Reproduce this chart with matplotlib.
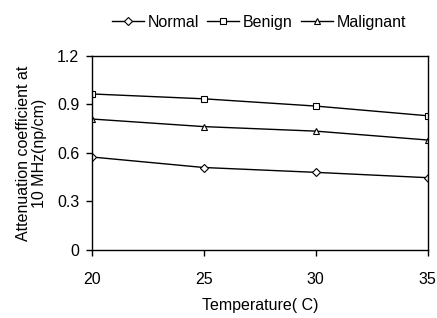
import matplotlib
matplotlib.use("Agg")
import matplotlib.pyplot as plt

plt.rcParams['font.family'] = ['Liberation Sans', 'DejaVu Sans']

temps = [20, 25, 30, 35]
normal = [0.575, 0.51, 0.48, 0.447]
benign = [0.965, 0.935, 0.89, 0.83]
malignant = [0.81, 0.763, 0.735, 0.68]
yticks = [0, 0.3, 0.6, 0.9, 1.2]
ytick_labels = ['0', '0.3', '0.6', '0.9', '1.2']

FS = 11.5
fig = plt.figure(figsize=(4.37, 3.18), dpi=100)
ax = fig.add_axes([0.21, 0.214, 0.769, 0.61])

mk = dict(color='black', linewidth=1, markersize=5, markerfacecolor='white',
          markeredgecolor='black', markeredgewidth=0.8)
ax.plot(temps, normal, marker='D', label='Normal', **{**mk, 'markersize': 4})
ax.plot(temps, benign, marker='s', label='Benign', **mk)
ax.plot(temps, malignant, marker='^', label='Malignant', **mk)

ax.set_xlim(20, 35)
ax.set_ylim(0, 1.2)
ax.set_xticks(temps)
ax.set_xticklabels([str(t) for t in temps])
ax.set_yticks(yticks)
ax.set_yticklabels(ytick_labels)
ax.tick_params(axis='x', direction='out', length=4, width=1, pad=12, labelsize=FS)
ax.tick_params(axis='y', direction='out', length=4, width=1, pad=5, labelsize=FS)
for s in ax.spines.values():
    s.set_linewidth(1)

ax.set_xlabel('Temperature( C)', fontsize=FS, labelpad=8)
ax.set_ylabel('Attenuation coefficient at\n10 MHz(np/cm)', fontsize=FS, labelpad=7,
              linespacing=1.1)

fig.legend(loc='center', bbox_to_anchor=(0.593, 0.93), ncol=3, frameon=False,
           fontsize=FS, handlelength=2.0, handletextpad=0.25, columnspacing=0.5,
           borderpad=0.2)

fig.savefig('out.png', dpi=100)
